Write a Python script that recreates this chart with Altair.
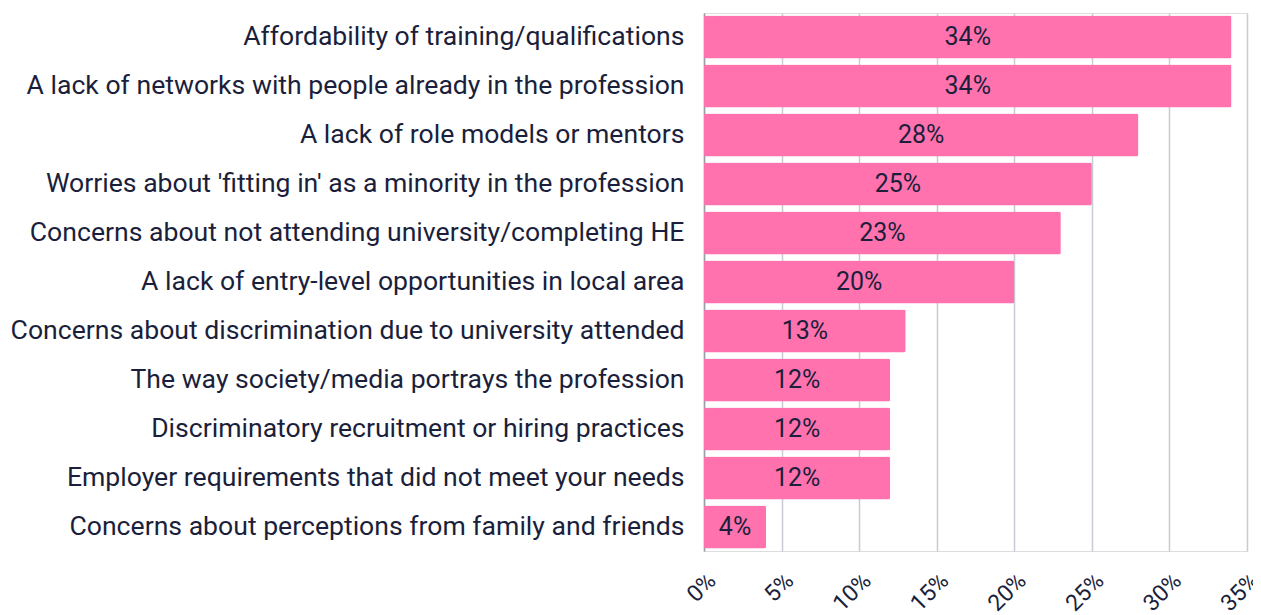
import altair as alt
import pandas as pd

categories = [
    "Affordability of training/qualifications",
    "A lack of networks with people already in the profession",
    "A lack of role models or mentors",
    "Worries about 'fitting in' as a minority in the profession",
    "Concerns about not attending university/completing HE",
    "A lack of entry-level opportunities in local area",
    "Concerns about discrimination due to university attended",
    "The way society/media portrays the profession",
    "Discriminatory recruitment or hiring practices",
    "Employer requirements that did not meet your needs",
    "Concerns about perceptions from family and friends",
]
values = [34, 34, 28, 25, 23, 20, 13, 12, 12, 12, 4]

df = pd.DataFrame({"category": categories, "value": values})
df["frac"] = df["value"] / 100
df["mid"] = df["frac"] / 2
df["label"] = df["value"].astype(str) + "%"

FONT = "Roboto"
TEXT = "#1b1f3b"

y_enc = alt.Y(
    "category:N",
    sort=categories,
    title=None,
    scale=alt.Scale(paddingInner=0.12, paddingOuter=0.05),
    axis=alt.Axis(
        labelFont=FONT,
        labelFontSize=26.6,
        labelColor=TEXT,
        labelPadding=20,
        ticks=False,
        domain=True,
        domainColor="#9a9ca8",
        domainWidth=1.5,
        labelLimit=900,
        grid=False,
    ),
)

x_scale = alt.Scale(domain=[0, 0.35], nice=False)

bars = alt.Chart(df).mark_bar(color="#ff72ae", cornerRadius=2).encode(
    y=y_enc,
    x=alt.X(
        "frac:Q",
        scale=x_scale,
        title=None,
        axis=alt.Axis(
            format=".0%",
            values=[0, 0.05, 0.1, 0.15, 0.2, 0.25, 0.3, 0.35],
            labelAngle=-45,
            labelAlign="right",
            labelBaseline="top",
            labelPadding=18,
            labelFont=FONT,
            labelFontSize=23,
            labelColor=TEXT,
            ticks=False,
            domain=False,
            grid=True,
            gridColor="#c9cbd4",
            gridWidth=1.5,
        ),
    ),
)

text = alt.Chart(df).mark_text(
    font=FONT, fontSize=25, color=TEXT, align="center", baseline="middle"
).encode(
    y=alt.Y("category:N", sort=categories),
    x=alt.X("mid:Q", scale=x_scale),
    text="label:N",
)

chart = (
    alt.layer(bars, text)
    .properties(
        width=543,
        height=538,
        autosize=alt.AutoSizeParams(type="none"),
        padding={"left": 696, "top": 5, "right": 6, "bottom": 64},
    )
    .configure_view(stroke=None)
    .configure(background="white")
)

chart.save("out.html", embed_options={"renderer": "svg", "actions": False})
